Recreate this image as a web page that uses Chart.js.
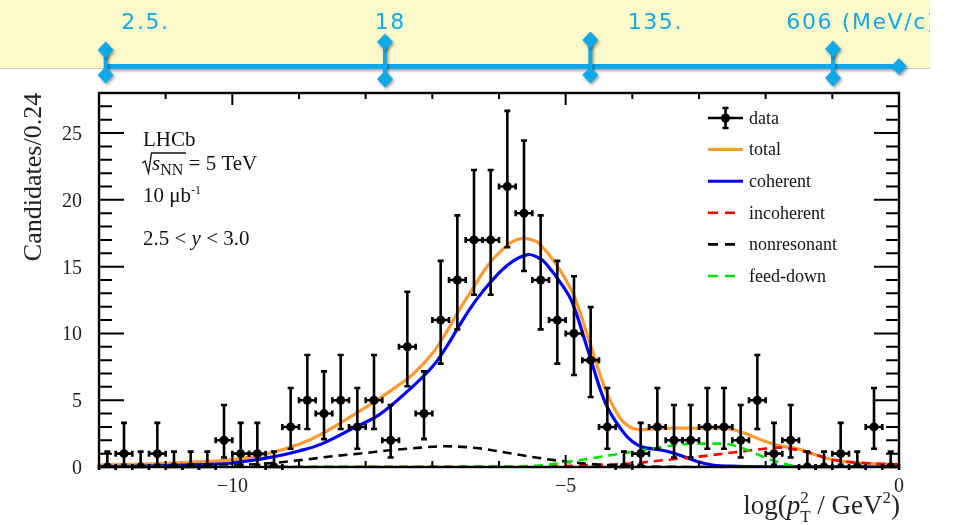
<!DOCTYPE html>
<html>
<head>
<meta charset="utf-8">
<script src="https://cdn.jsdelivr.net/npm/chart.js@4/dist/chart.umd.min.js"></script>
<style>
  html, body { margin: 0; padding: 0; background: #fff; }
  #wrap { width: 953px; height: 525px; }
</style>
</head>
<body>
<div id="wrap"><canvas id="c" width="953" height="525"></canvas></div>
<script>
// ---- data: log(pT^2/GeV^2) distribution, 2.5 < y < 3.0 ----
const binCenters = [-11.875, -11.625, -11.375, -11.125, -10.875, -10.625, -10.375, -10.125,
  -9.875, -9.625, -9.375, -9.125, -8.875, -8.625, -8.375, -8.125,
  -7.875, -7.625, -7.375, -7.125, -6.875, -6.625, -6.375, -6.125,
  -5.875, -5.625, -5.375, -5.125, -4.875, -4.625, -4.375, -4.125,
  -3.875, -3.625, -3.375, -3.125, -2.875, -2.625, -2.375, -2.125,
  -1.875, -1.625, -1.375, -1.125, -0.875, -0.625, -0.375, -0.125];
const binWidth = 0.25;
const counts = [0, 1, 0, 1, 0, 0, 0, 2,
  1, 1, 0, 3, 5, 4, 5, 3,
  5, 2, 9, 4, 11, 14, 17, 17,
  21, 19, 14, 11, 10, 8, 3, 0,
  1, 3, 2, 2, 3, 3, 2, 5,
  1, 2, 0, 0, 1, 0, 3, 0];
const countLow = [0, 0.17, 0, 0.17, 0, 0, 0, 0.71,
  0.17, 0.17, 0, 1.37, 2.84, 2.09, 2.84, 1.37,
  2.84, 0.71, 6.05, 2.09, 7.74, 10.30, 12.90, 12.90,
  16.45, 14.67, 10.30, 7.74, 6.89, 5.24, 1.37, 0,
  0.17, 1.37, 0.71, 0.71, 1.37, 1.37, 0.71, 2.84,
  0.17, 0.71, 0, 0, 0.17, 0, 1.37, 0];
const countHigh = [1.15, 3.30, 1.15, 3.30, 1.15, 1.15, 1.15, 4.64,
  3.30, 3.30, 1.15, 5.92, 8.38, 7.16, 8.38, 5.92,
  8.38, 4.64, 13.12, 7.16, 15.43, 18.84, 22.24, 22.24,
  26.66, 24.44, 18.84, 15.43, 14.28, 11.97, 5.92, 1.15,
  3.30, 5.92, 4.64, 4.64, 5.92, 5.92, 4.64, 8.38,
  3.30, 4.64, 1.15, 1.15, 3.30, 1.15, 5.92, 1.15];

// fit components
const totalX = [-12, -11.5, -11, -10.5, -10, -9.5, -9, -8.65, -8.15, -7.8, -7.5, -7.3, -7, -6.8, -6.64, -6.4,
  -6.15, -5.9, -5.75, -5.62, -5.5, -5.4, -5.15, -4.9, -4.8, -4.65, -4.4, -4.25, -4.14, -4.0, -3.85, -3.55,
  -3.05, -2.55, -2.3, -2.05, -1.8, -1.55, -1.3, -1.05, -0.8, -0.55, -0.05, 0];
const totalY = [0.15, 0.2, 0.27, 0.38, 0.55, 0.95, 1.7, 2.5, 4.0, 5.1, 6.15, 6.9, 8.5, 10.0, 11.4, 13.3,
  15.2, 16.5, 17.0, 17.1, 17.0, 16.75, 15.25, 13.1, 11.8, 9.5, 5.75, 4.2, 3.4, 2.9, 2.8, 2.9,
  2.9, 2.85, 2.5, 2.0, 1.6, 1.4, 1.0, 0.6, 0.4, 0.3, 0.2, 0.2];
const coherentX = [-12, -11.5, -11, -10.5, -10, -9.4, -9, -8.65, -8.15, -7.8, -7.3, -7, -6.8, -6.6, -6.4, -6.15,
  -5.85, -5.57, -5.4, -5.3, -5.05, -4.9, -4.65, -4.4, -4.15, -4.0, -3.85, -3.55, -3.3, -3.05, -2.8, -2.4, -2, 0];
const coherentY = [0.03, 0.05, 0.1, 0.18, 0.3, 0.75, 1.2, 1.75, 3.0, 3.9, 6.0, 7.5, 8.9, 10.55, 12.1, 13.7,
  15.2, 15.9, 15.65, 15.25, 13.6, 12.3, 8.5, 4.75, 2.7, 1.9, 1.5, 1.25, 0.9, 0.45, 0.15, 0.05, 0.02, 0];
const incoherentX = [-12, -6, -5.5, -5, -4.5, -4.05, -3.55, -3.05, -2.55, -2.05, -1.8, -1.55, -1.3, -1.05,
  -0.8, -0.55, -0.05, 0];
const incoherentY = [0, 0.01, 0.03, 0.08, 0.17, 0.25, 0.5, 0.75, 1.05, 1.35, 1.45, 1.3, 1.0, 0.6,
  0.4, 0.3, 0.2, 0.2];
const nonresonantX = [-12, -11, -10.5, -10, -9.4, -9, -8.5, -8, -7.65, -7.3, -6.8, -6.3, -5.8, -5.3, -4.8,
  -4.3, -3.8, -3, 0];
const nonresonantY = [0, 0.02, 0.05, 0.12, 0.3, 0.5, 0.8, 1.05, 1.25, 1.4, 1.55, 1.4, 1.0, 0.6, 0.3,
  0.12, 0.04, 0, 0];
const feeddownX = [-12, -6, -5.5, -5.3, -4.8, -4.3, -3.9, -3.55, -3.05, -2.65, -2.4, -2.15, -1.9, -1.65,
  -1.4, -0.9, 0];
const feeddownY = [0.01, 0.03, 0.08, 0.15, 0.5, 0.9, 1.2, 1.5, 1.75, 1.75, 1.5, 1.0, 0.5, 0.15,
  0.04, 0, 0];

// pT annotation along the top (positions in log(pT^2) units)
const ptMarkers = [-11.9, -7.71, -4.63, -0.99];
const ptLabels = ['2.5.', '18', '135.', '606 (MeV/c)'];
const ptLabelAt = [-11.665, -7.865, -4.07, -1.69];

const legendNames = ['data', 'total', 'coherent', 'incoherent', 'nonresonant', 'feed-down'];

// ---- styles ----
const SERIF = '"Liberation Serif", "Times New Roman", serif';
const COL = { total: '#ff9933', coherent: '#0000ff', incoherent: '#ff0000', nonresonant: '#000000', feeddown: '#00e600' };
const ANNOT = '#10a8e6';
const markerSpan = [[50, 75], [42, 79], [40, 75], [49, 78]];

function pts(xs, ys) { return xs.map((x, i) => ({ x, y: ys[i] })); }

function curve(label, xs, ys, color, dashed, order) {
  const c = {
    type: 'scatter', label, data: pts(xs, ys), showLine: true, pointRadius: 0,
    borderColor: color, backgroundColor: color, borderWidth: dashed ? 2.6 : 3.2,
    borderDash: dashed ? [9, 6] : [], order
  };
  // dashed components sit on long flat stretches: keep them monotone
  if (dashed) { c.cubicInterpolationMode = 'monotone'; } else { c.tension = 0.4; }
  return c;
}

// draw a row of text pieces (font, vertical shift, optional no-advance)
function richWidth(ctx, parts) {
  let w = 0;
  for (const p of parts) { ctx.font = p.f; if (p.adv !== false) w += ctx.measureText(p.t).width; }
  return w;
}
function drawRich(ctx, parts, x, y) {
  let cx = x;
  for (const p of parts) {
    ctx.font = p.f;
    ctx.fillText(p.t, cx, y + (p.dy || 0));
    if (p.adv !== false) cx += ctx.measureText(p.t).width;
  }
  return cx;
}

const decor = {
  id: 'decor',
  beforeDraw(chart) {
    const ctx = chart.ctx;
    ctx.save();
    ctx.fillStyle = '#ffffff';
    ctx.fillRect(0, 0, chart.width, chart.height);
    ctx.fillStyle = '#fdf9ca';
    ctx.fillRect(0, 0, 930, 68);
    ctx.strokeStyle = '#c9c8bd';
    ctx.lineWidth = 1;
    ctx.beginPath(); ctx.moveTo(0, 68.5); ctx.lineTo(930, 68.5); ctx.stroke();
    ctx.restore();
  },
  beforeDatasetDraw(chart, args) {
    if (args.index !== 0) return;
    const ctx = chart.ctx, xs = chart.scales.x, ys = chart.scales.y;
    ctx.save();
    ctx.strokeStyle = '#000';
    ctx.lineWidth = 2.6;
    for (let i = 0; i < counts.length; i++) {
      const px = xs.getPixelForValue(binCenters[i]);
      const py = ys.getPixelForValue(counts[i]);
      const pl = ys.getPixelForValue(countLow[i]);
      const ph = ys.getPixelForValue(countHigh[i]);
      const xl = xs.getPixelForValue(binCenters[i] - binWidth / 2);
      const xr = xs.getPixelForValue(binCenters[i] + binWidth / 2);
      ctx.beginPath();
      ctx.moveTo(px, pl); ctx.lineTo(px, ph);
      ctx.moveTo(xl, py); ctx.lineTo(xr, py);
      ctx.moveTo(px - 3, ph); ctx.lineTo(px + 3, ph);
      if (countLow[i] > 0) { ctx.moveTo(px - 3, pl); ctx.lineTo(px + 3, pl); }
      ctx.moveTo(xl, py - 3); ctx.lineTo(xl, py + 3);
      ctx.moveTo(xr, py - 3); ctx.lineTo(xr, py + 3);
      ctx.stroke();
    }
    ctx.restore();
  },
  afterDraw(chart) {
    const ctx = chart.ctx, xs = chart.scales.x, ys = chart.scales.y, a = chart.chartArea;
    ctx.save();
    // frame
    ctx.strokeStyle = '#000';
    ctx.lineWidth = 2.4;
    ctx.strokeRect(a.left, a.top, a.right - a.left, a.bottom - a.top);
    // inward ticks
    ctx.lineWidth = 2;
    ctx.beginPath();
    for (const t of xs.ticks) {
      const px = xs.getPixelForValue(t.value);
      const len = (Math.round(t.value) % 5 === 0) ? 12 : 6;
      ctx.moveTo(px, a.bottom); ctx.lineTo(px, a.bottom - len);
      ctx.moveTo(px, a.top); ctx.lineTo(px, a.top + len);
    }
    for (const t of ys.ticks) {
      const py = ys.getPixelForValue(t.value);
      const len = (Math.round(t.value) % 5 === 0) ? 25 : 13;
      ctx.moveTo(a.left, py); ctx.lineTo(a.left + len, py);
      ctx.moveTo(a.right, py); ctx.lineTo(a.right - len, py);
    }
    ctx.stroke();

    // tick labels
    ctx.fillStyle = '#222';
    ctx.font = '20px ' + SERIF;
    ctx.textAlign = 'right';
    ctx.textBaseline = 'alphabetic';
    for (const t of ys.ticks) {
      if (Math.round(t.value) % 5 !== 0) continue;
      ctx.fillText(String(t.value), a.left - 17, ys.getPixelForValue(t.value) + 7);
    }
    ctx.textAlign = 'center';
    for (const t of xs.ticks) {
      if (Math.round(t.value) % 5 !== 0 || t.value === -12) continue;
      const s = t.value < 0 ? '\u2212' + Math.abs(t.value) : String(t.value);
      ctx.fillText(s, xs.getPixelForValue(t.value), 492);
    }

    // axis titles
    ctx.textAlign = 'left';
    const big = '27px ' + SERIF, bigI = 'italic 27px ' + SERIF, sm = '17px ' + SERIF;
    const xTitle = [
      { t: 'log(', f: big }, { t: 'p', f: bigI },
      { t: '2', f: sm, dy: -11, adv: false }, { t: 'T', f: sm, dy: 8 },
      { t: ' / GeV', f: big }, { t: '2', f: sm, dy: -11 }, { t: ')', f: big }
    ];
    drawRich(ctx, xTitle, 900 - richWidth(ctx, xTitle), 514);

    ctx.save();
    ctx.translate(41, 177);
    ctx.rotate(-Math.PI / 2);
    ctx.textAlign = 'center';
    ctx.font = '26px ' + SERIF;
    ctx.fillText('Candidates/0.24', 0, 0);
    ctx.restore();

    // experiment label
    ctx.fillStyle = '#111';
    const f20 = '21px ' + SERIF, f20i = 'italic 21px ' + SERIF;
    ctx.font = f20;
    ctx.fillText('LHCb', 143, 146);
    ctx.lineWidth = 1.3;
    ctx.strokeStyle = '#111';
    ctx.beginPath();
    ctx.moveTo(142, 163); ctx.lineTo(145, 161); ctx.lineTo(148.5, 173); ctx.lineTo(151.5, 153); ctx.lineTo(186, 153);
    ctx.stroke();
    drawRich(ctx, [{ t: 's', f: f20i }, { t: 'NN', f: '16px ' + SERIF, dy: 5 }, { t: ' = 5 TeV', f: f20 }], 152, 170);
    drawRich(ctx, [{ t: '10 \u03bcb', f: f20 }, { t: '-1', f: '12px ' + SERIF, dy: -8 }], 143, 202);
    drawRich(ctx, [{ t: '2.5 < ', f: f20 }, { t: 'y', f: f20i }, { t: ' < 3.0', f: f20 }], 143, 245);

    // legend
    const lx0 = 708, lx1 = 743, tx = 749;
    const styles = [null, [COL.total, false], [COL.coherent, false], [COL.incoherent, true],
      [COL.nonresonant, true], [COL.feeddown, true]];
    ctx.font = '18px ' + SERIF;
    ctx.textBaseline = 'middle';
    legendNames.forEach((name, i) => {
      const ly = 118 + 31.6 * i;
      if (i === 0) {
        ctx.strokeStyle = '#000'; ctx.lineWidth = 2.6;
        const cx = (lx0 + lx1) / 2;
        ctx.beginPath();
        ctx.moveTo(lx0, ly); ctx.lineTo(lx1, ly);
        ctx.moveTo(cx, ly - 10); ctx.lineTo(cx, ly + 10);
        ctx.moveTo(cx - 3, ly - 10); ctx.lineTo(cx + 3, ly - 10);
        ctx.moveTo(cx - 3, ly + 10); ctx.lineTo(cx + 3, ly + 10);
        ctx.stroke();
        ctx.fillStyle = '#000';
        ctx.beginPath(); ctx.arc(cx, ly, 4.5, 0, Math.PI * 2); ctx.fill();
      } else {
        const [c, dashed] = styles[i];
        ctx.strokeStyle = c; ctx.lineWidth = dashed ? 2.6 : 3;
        ctx.setLineDash(dashed ? [10, 7] : []);
        ctx.beginPath(); ctx.moveTo(lx0, ly); ctx.lineTo(dashed ? 736 : lx1, ly); ctx.stroke();
        ctx.setLineDash([]);
      }
      ctx.fillStyle = '#111';
      ctx.fillText(name, tx, ly + 1);
    });
    ctx.restore();

    // pT annotation
    ctx.save();
    ctx.beginPath(); ctx.rect(0, 0, 930, chart.height); ctx.clip();
    ctx.shadowColor = 'rgba(0,0,0,0.35)';
    ctx.shadowBlur = 3; ctx.shadowOffsetX = 1.5; ctx.shadowOffsetY = 2;
    ctx.strokeStyle = ANNOT; ctx.fillStyle = ANNOT;
    const ly = 66.5;
    ctx.lineWidth = 5;
    ctx.beginPath();
    ctx.moveTo(xs.getPixelForValue(ptMarkers[0]), ly);
    ctx.lineTo(xs.getPixelForValue(0), ly);
    ctx.stroke();
    const diamond = (x, y) => {
      ctx.beginPath();
      ctx.moveTo(x, y - 8.5); ctx.lineTo(x + 8, y); ctx.lineTo(x, y + 8.5); ctx.lineTo(x - 8, y);
      ctx.closePath(); ctx.fill();
    };
    ptMarkers.forEach((v, i) => {
      const px = xs.getPixelForValue(v);
      const [t, b] = markerSpan[i];
      ctx.lineWidth = 4;
      ctx.beginPath(); ctx.moveTo(px, t); ctx.lineTo(px, b); ctx.stroke();
      diamond(px, t); diamond(px, b);
    });
    diamond(xs.getPixelForValue(0), ly);
    ctx.shadowColor = 'transparent';
    ctx.font = '22px "DejaVu Sans", sans-serif';
    if ('letterSpacing' in ctx) ctx.letterSpacing = '1.6px';
    ctx.textAlign = 'left';
    ctx.textBaseline = 'alphabetic';
    ptLabels.forEach((s, i) => ctx.fillText(s, xs.getPixelForValue(ptLabelAt[i]), 29));
    ctx.restore();
  }
};

const chart = new Chart(document.getElementById('c'), {
  type: 'scatter',
  data: {
    datasets: [
      { type: 'scatter', label: 'data', data: pts(binCenters, counts), pointRadius: 4.5, pointHoverRadius: 4.5,
        backgroundColor: '#000', borderColor: '#000', borderWidth: 0, order: 0 },
      curve('feed-down', feeddownX, feeddownY, COL.feeddown, true, 1),
      curve('nonresonant', nonresonantX, nonresonantY, COL.nonresonant, true, 2),
      curve('incoherent', incoherentX, incoherentY, COL.incoherent, true, 3),
      curve('coherent', coherentX, coherentY, COL.coherent, false, 4),
      curve('total', totalX, totalY, COL.total, false, 5)
    ]
  },
  options: {
    responsive: false,
    animation: false,
    devicePixelRatio: 1,
    events: [],
    layout: { padding: { left: 99, right: 54, top: 93, bottom: 58 } },
    plugins: { legend: { display: false }, tooltip: { enabled: false } },
    scales: {
      x: { type: 'linear', min: -12, max: 0, ticks: { stepSize: 1, display: false },
        grid: { display: false }, border: { display: false }, afterFit: s => { s.height = 0; } },
      y: { type: 'linear', min: 0, max: 28, ticks: { stepSize: 1, display: false },
        grid: { display: false }, border: { display: false }, afterFit: s => { s.width = 0; } }
    }
  },
  plugins: [decor]
});
</script>
</body>
</html>
